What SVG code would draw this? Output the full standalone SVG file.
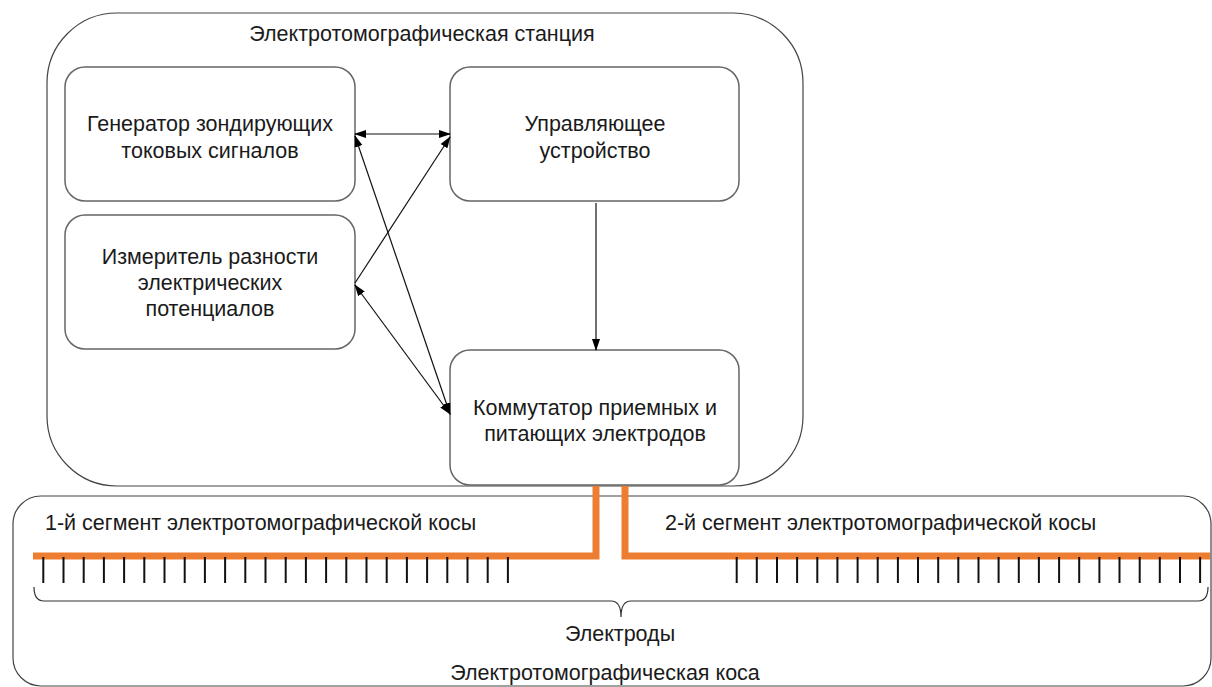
<svg xmlns="http://www.w3.org/2000/svg" width="1212" height="687" viewBox="0 0 1212 687">
<style>
text{font-family:"Liberation Sans",Arial,sans-serif;font-size:21.5px;fill:#1a1a1a}
.c{text-anchor:middle}
.box{fill:#fff;stroke:#666;stroke-width:1.5}
.outer{fill:#fff;stroke:#444;stroke-width:1.2}
.ln{stroke:#111;stroke-width:1.2;fill:none}
.or{stroke:#ED7D31;stroke-width:7;fill:none}
.tk{stroke:#111;stroke-width:2}
</style>
<defs>
<marker id="ah" markerUnits="userSpaceOnUse" markerWidth="12" markerHeight="10" refX="11" refY="4" orient="auto-start-reverse" viewBox="0 0 12 8">
<path d="M0,0 L12,4 L0,8 z" fill="#000"/>
</marker>
</defs>
<g id="kosa">
<rect class="outer" x="13" y="496" width="1198" height="190" rx="28"/>
<text x="45" y="530">1-й сегмент электротомографической косы</text>
<text x="665" y="530">2-й сегмент электротомографической косы</text>
<text x="620" y="641" class="c">Электроды</text>
<text x="605" y="680" class="c">Электротомографическая коса</text>
</g>
<g id="station">
<rect class="outer" x="47" y="13" width="756" height="473" rx="70"/>
<text x="422" y="41" class="c">Электротомографическая станция</text>
</g>
<g id="generator">
<rect class="box" x="65" y="67" width="290" height="134" rx="20"/>
<text x="210" y="131" class="c">Генератор зондирующих</text>
<text x="210" y="158" class="c">токовых сигналов</text>
</g>
<g id="meter">
<rect class="box" x="65" y="215" width="290" height="134" rx="20"/>
<text x="210" y="264" class="c">Измеритель разности</text>
<text x="210" y="290" class="c">электрических</text>
<text x="210" y="316" class="c">потенциалов</text>
</g>
<g id="control">
<rect class="box" x="450" y="67" width="289" height="134" rx="20"/>
<text x="595" y="131" class="c">Управляющее</text>
<text x="595" y="158" class="c">устройство</text>
</g>
<g id="switch">
<rect class="box" x="450" y="350" width="289" height="135" rx="20"/>
<text x="595" y="415" class="c">Коммутатор приемных и</text>
<text x="595" y="441" class="c">питающих электродов</text>
</g>
<g id="connectors">
<line class="ln" x1="355" y1="134" x2="450" y2="134" marker-start="url(#ah)" marker-end="url(#ah)"/>
<line class="ln" x1="355" y1="136" x2="450" y2="414" marker-start="url(#ah)" marker-end="url(#ah)"/>
<line class="ln" x1="355" y1="283" x2="450" y2="137" marker-end="url(#ah)"/>
<line class="ln" x1="355" y1="285" x2="450" y2="414" marker-start="url(#ah)" marker-end="url(#ah)"/>
<line class="ln" x1="596" y1="203" x2="596" y2="350" marker-end="url(#ah)"/>
</g>
<g id="cable">
<path class="or" d="M33,556 H596 V486"/>
<path class="or" d="M625,486 V556 H1210"/>
<g class="tk">
<line x1="43.3" y1="557" x2="43.3" y2="583"/><line x1="63.5" y1="557" x2="63.5" y2="583"/><line x1="83.7" y1="557" x2="83.7" y2="583"/><line x1="103.9" y1="557" x2="103.9" y2="583"/><line x1="124.1" y1="557" x2="124.1" y2="583"/><line x1="144.3" y1="557" x2="144.3" y2="583"/><line x1="164.5" y1="557" x2="164.5" y2="583"/><line x1="184.7" y1="557" x2="184.7" y2="583"/><line x1="204.9" y1="557" x2="204.9" y2="583"/><line x1="225.1" y1="557" x2="225.1" y2="583"/><line x1="245.3" y1="557" x2="245.3" y2="583"/><line x1="265.5" y1="557" x2="265.5" y2="583"/><line x1="285.7" y1="557" x2="285.7" y2="583"/><line x1="305.9" y1="557" x2="305.9" y2="583"/><line x1="326.1" y1="557" x2="326.1" y2="583"/><line x1="346.3" y1="557" x2="346.3" y2="583"/><line x1="366.5" y1="557" x2="366.5" y2="583"/><line x1="386.7" y1="557" x2="386.7" y2="583"/><line x1="406.9" y1="557" x2="406.9" y2="583"/><line x1="427.1" y1="557" x2="427.1" y2="583"/><line x1="447.3" y1="557" x2="447.3" y2="583"/><line x1="467.5" y1="557" x2="467.5" y2="583"/><line x1="487.7" y1="557" x2="487.7" y2="583"/><line x1="507.9" y1="557" x2="507.9" y2="583"/>
<line x1="736.7" y1="557" x2="736.7" y2="583"/><line x1="756.8" y1="557" x2="756.8" y2="583"/><line x1="777" y1="557" x2="777" y2="583"/><line x1="797.1" y1="557" x2="797.1" y2="583"/><line x1="817.3" y1="557" x2="817.3" y2="583"/><line x1="837.4" y1="557" x2="837.4" y2="583"/><line x1="857.6" y1="557" x2="857.6" y2="583"/><line x1="877.7" y1="557" x2="877.7" y2="583"/><line x1="897.9" y1="557" x2="897.9" y2="583"/><line x1="918" y1="557" x2="918" y2="583"/><line x1="938.2" y1="557" x2="938.2" y2="583"/><line x1="958.3" y1="557" x2="958.3" y2="583"/><line x1="978.5" y1="557" x2="978.5" y2="583"/><line x1="998.6" y1="557" x2="998.6" y2="583"/><line x1="1018.8" y1="557" x2="1018.8" y2="583"/><line x1="1038.9" y1="557" x2="1038.9" y2="583"/><line x1="1059.1" y1="557" x2="1059.1" y2="583"/><line x1="1079.2" y1="557" x2="1079.2" y2="583"/><line x1="1099.4" y1="557" x2="1099.4" y2="583"/><line x1="1119.5" y1="557" x2="1119.5" y2="583"/><line x1="1139.7" y1="557" x2="1139.7" y2="583"/><line x1="1159.8" y1="557" x2="1159.8" y2="583"/><line x1="1180" y1="557" x2="1180" y2="583"/><line x1="1200.1" y1="557" x2="1200.1" y2="583"/>
</g>
<path d="M34,587 Q34,601 44,601 H611 Q621,601 621,617 Q621,601 631,601 H1198 Q1208,601 1208,587" fill="none" stroke="#333" stroke-width="1.2"/>
</g>
</svg>
